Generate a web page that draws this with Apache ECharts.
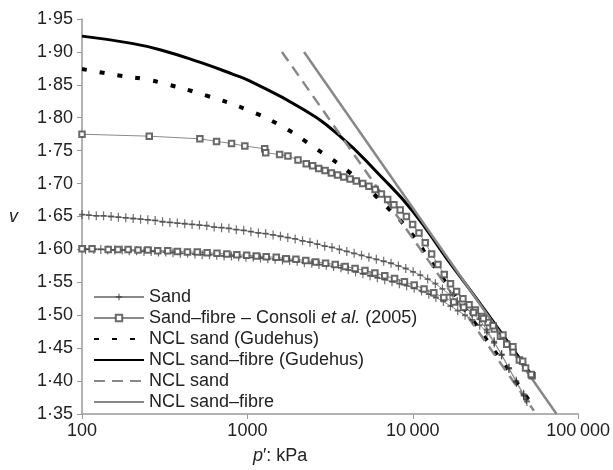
<!DOCTYPE html>
<html>
<head>
<meta charset="utf-8">
<script src="https://cdn.jsdelivr.net/npm/echarts@6/dist/echarts.min.js"></script>
<style>
  html, body { margin: 0; padding: 0; background: #fff; }
  #chart { width: 613px; height: 470px; }
</style>
</head>
<body>
<div id="chart"></div>
<script>
// experimental data, [p' (kPa), v]
const sandUpper = [
  [100, 1.653], [110, 1.652], [122, 1.651], [135, 1.651], [150, 1.650], [166, 1.649], [184, 1.648],
  [204, 1.647], [226, 1.646], [250, 1.645], [277, 1.644], [307, 1.642], [340, 1.641], [377, 1.640],
  [418, 1.639], [463, 1.638], [513, 1.637], [568, 1.636], [630, 1.634], [698, 1.633], [773, 1.632],
  [857, 1.630], [950, 1.629], [1050, 1.627], [1165, 1.625], [1290, 1.624], [1430, 1.622], [1585, 1.620],
  [1755, 1.618], [1945, 1.616], [2155, 1.613], [2390, 1.611], [2650, 1.608], [2935, 1.605], [3250, 1.603],
  [3600, 1.600], [3990, 1.597], [4420, 1.594], [4900, 1.591], [5430, 1.588], [6020, 1.585], [6670, 1.582],
  [7390, 1.579], [8190, 1.575], [9070, 1.571], [10050, 1.566], [11100, 1.561], [12300, 1.555], [13700, 1.548],
  [15100, 1.540], [16800, 1.531], [18600, 1.521], [20600, 1.512], [22800, 1.503], [25300, 1.494], [28000, 1.478],
  [31000, 1.460], [34400, 1.440], [38100, 1.420], [42200, 1.400], [46800, 1.380], [48500, 1.372]
];
const sandLower = [
  [105, 1.600], [118, 1.600], [130, 1.600], [143, 1.599], [158, 1.599], [175, 1.599], [193, 1.598],
  [214, 1.598], [237, 1.597], [262, 1.597], [290, 1.596], [321, 1.596], [355, 1.595], [393, 1.594],
  [435, 1.594], [482, 1.593], [533, 1.592], [590, 1.592], [653, 1.591], [723, 1.590], [800, 1.590],
  [886, 1.589], [980, 1.588], [1085, 1.588], [1200, 1.587], [1330, 1.586], [1470, 1.585], [1630, 1.584],
  [1800, 1.583], [2000, 1.582], [2210, 1.580], [2450, 1.579], [2710, 1.577], [3000, 1.576], [3320, 1.574],
  [3680, 1.572], [4070, 1.569], [4510, 1.566], [4990, 1.563], [5520, 1.560], [6110, 1.557], [6770, 1.554],
  [7490, 1.551], [8290, 1.548], [9180, 1.545], [10200, 1.541], [11300, 1.537], [12500, 1.532], [13800, 1.527],
  [15300, 1.521], [16900, 1.514], [18700, 1.507], [20700, 1.500], [22900, 1.493], [25400, 1.485], [28100, 1.474],
  [31100, 1.458], [34500, 1.440], [38200, 1.419], [42300, 1.398], [46900, 1.378], [49000, 1.369]
];
const fibreUpper = [
  [100, 1.775], [255, 1.772], [516, 1.768], [651, 1.764], [802, 1.761], [965, 1.757], [1273, 1.753],
  [1290, 1.747], [1567, 1.744], [1758, 1.742], [2023, 1.736], [2270, 1.730], [2480, 1.727], [2700, 1.723],
  [2950, 1.720], [3220, 1.716], [3510, 1.713], [3830, 1.710], [4180, 1.707], [4560, 1.704], [4980, 1.700],
  [5430, 1.696], [5920, 1.691], [6460, 1.684], [7050, 1.676], [7690, 1.668], [8390, 1.660], [9150, 1.650],
  [9980, 1.638], [10900, 1.625], [11900, 1.610], [13000, 1.593], [14200, 1.577], [15500, 1.562], [16900, 1.548],
  [18400, 1.536], [20100, 1.525], [21900, 1.516], [23900, 1.508], [26100, 1.498], [28500, 1.489], [31100, 1.479],
  [33900, 1.468], [37000, 1.456], [40400, 1.444], [44100, 1.432], [48100, 1.420], [52700, 1.408]
];
const fibreLower = [
  [100, 1.601], [115, 1.601], [144, 1.600], [165, 1.600], [190, 1.600], [218, 1.599], [250, 1.599],
  [287, 1.598], [330, 1.598], [378, 1.597], [434, 1.596], [498, 1.596], [571, 1.595], [655, 1.594],
  [752, 1.593], [863, 1.592], [990, 1.591], [1135, 1.590], [1300, 1.589], [1495, 1.588], [1715, 1.586],
  [1965, 1.585], [2255, 1.583], [2590, 1.581], [2970, 1.579], [3400, 1.577], [3900, 1.574], [4480, 1.571],
  [5140, 1.568], [5900, 1.564], [6770, 1.560], [7760, 1.556], [8900, 1.551], [10200, 1.546], [11700, 1.540],
  [13400, 1.534], [15400, 1.527], [17700, 1.520], [20300, 1.512], [23300, 1.504], [26700, 1.495], [30600, 1.484],
  [35100, 1.470], [40300, 1.452], [46200, 1.430], [52000, 1.410]
];
// model curves
const nclSandGudehus = [
  [100, 1.874], [180, 1.863], [235, 1.859], [325, 1.851], [560, 1.834], [1000, 1.812], [1640, 1.786],
  [2600, 1.753], [4240, 1.715], [6500, 1.672], [9530, 1.628], [13150, 1.578], [19000, 1.522],
  [27000, 1.468], [38000, 1.415], [50000, 1.372]
];
const nclFibreGudehus = [
  [100, 1.924], [200, 1.913], [300, 1.903], [520, 1.884], [820, 1.866], [1030, 1.856], [2070, 1.816],
  [3600, 1.773], [6300, 1.713], [10000, 1.658], [15850, 1.588], [22900, 1.534], [35000, 1.470], [52700, 1.408]
];
const nclSand = [[1618, 1.90], [54000, 1.355]];
const nclFibre = [[2200, 1.90], [74000, 1.35]];

const SAND = 'Sand';
const FIBRE = 'Sand–fibre – Consoli et al. (2005)';
const modelNames = ['NCL sand (Gudehus)', 'NCL sand–fibre (Gudehus)', 'NCL sand', 'NCL sand–fibre'];

const FONT = 'Liberation Sans, Arial, sans-serif';
const PLUS = 'path://M4,0h2v4h4v2h-4v4h-2v-4h-4v-2h4z';

function sandSeries(data) {
  return {
    name: SAND, type: 'line', data: data,
    symbol: PLUS, symbolSize: [6, 9], showAllSymbol: true,
    lineStyle: { color: '#8a8a8a', width: 1 },
    itemStyle: { color: 'rgba(50,50,50,0.7)' }
  };
}
function fibreSeries(data) {
  return {
    name: FIBRE, type: 'line', data: data,
    symbol: 'emptyRect', symbolSize: 5.5, showAllSymbol: true,
    lineStyle: { color: '#8a8a8a', width: 1 },
    itemStyle: { color: 'rgba(80,80,80,0.85)', borderWidth: 1 }
  };
}
function modelSeries(name, data, color, width, type, smooth) {
  return {
    name: name, type: 'line', data: data, smooth: smooth, z: 3,
    symbol: 'none', lineStyle: { color: color, width: width, type: type }, itemStyle: { color: color }
  };
}

const chart = echarts.init(document.getElementById('chart'));
chart.setOption({
  animation: false,
  grid: { left: 82, right: 34, top: 19, bottom: 52 },
  legend: {
    orient: 'vertical', left: 93, top: 288, padding: 0,
    itemWidth: 50, itemHeight: 8, itemGap: 3,
    data: [SAND, FIBRE].concat(modelNames.map(function (n) {
      return { name: n, itemStyle: { opacity: 0 } };
    })),
    formatter: function (name) {
      if (name === FIBRE) return '{n|Sand–fibre – Consoli }{i|et al.}{n| (2005)}';
      return '{n|' + name + '}';
    },
    textStyle: {
      fontFamily: FONT, fontSize: 18, color: '#222',
      rich: {
        n: { fontFamily: FONT, fontSize: 18, color: '#222' },
        i: { fontFamily: FONT, fontSize: 18, color: '#222', fontStyle: 'italic' }
      }
    }
  },
  xAxis: {
    type: 'log', logBase: 10, min: 100, max: 100000,
    name: '{i|p}{n|′: kPa}', nameLocation: 'middle', nameGap: 33,
    nameTextStyle: {
      padding: [0, 100, 0, 0],
      rich: {
        i: { fontFamily: FONT, fontSize: 18, color: '#222', fontStyle: 'italic' },
        n: { fontFamily: FONT, fontSize: 18, color: '#222' }
      }
    },
    axisLine: { lineStyle: { color: '#999', width: 1.5 } },
    axisTick: { length: 5, lineStyle: { color: '#999' } },
    axisLabel: {
      fontFamily: FONT, fontSize: 18, color: '#222', margin: 8,
      formatter: function (v) {
        const s = String(Math.round(v));
        return s.length > 4 ? s.replace(/\B(?=(\d{3})+(?!\d))/g, '\u2009') : s;
      }
    },
    splitLine: { show: false }
  },
  yAxis: {
    type: 'value', min: 1.35, max: 1.95, interval: 0.05,
    name: 'v', nameLocation: 'middle', nameRotate: 0, nameGap: 64,
    nameTextStyle: { fontFamily: FONT, fontSize: 18, color: '#222', fontStyle: 'italic' },
    axisLine: { show: true, lineStyle: { color: '#999', width: 1.5 } },
    axisTick: { show: true, length: 5, lineStyle: { color: '#999' } },
    axisLabel: {
      fontFamily: FONT, fontSize: 18, color: '#222', margin: 9,
      formatter: function (v) { return v.toFixed(2).replace('.', '·'); }
    },
    splitLine: { show: false }
  },
  series: [
    sandSeries(sandUpper),
    fibreSeries(fibreUpper),
    sandSeries(sandLower),
    fibreSeries(fibreLower),
    modelSeries(modelNames[0], nclSandGudehus, '#000', 4, [5, 13], true),
    modelSeries(modelNames[1], nclFibreGudehus, '#000', 3, 'solid', true),
    modelSeries(modelNames[2], nclSand, '#888', 2.5, [11, 7], false),
    modelSeries(modelNames[3], nclFibre, '#888', 2.5, 'solid', false)
  ]
});
</script>
</body>
</html>
